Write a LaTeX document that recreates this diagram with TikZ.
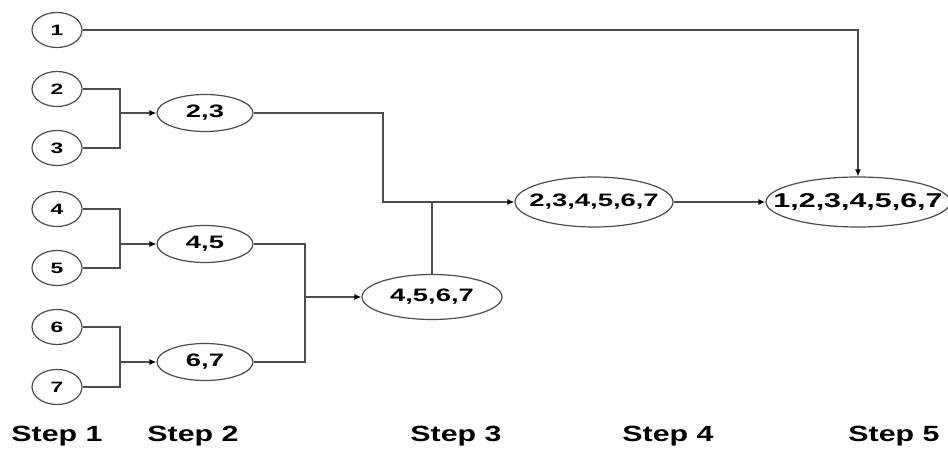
\documentclass[tikz,border=0pt]{standalone}
\usepackage{fontspec}
\setmainfont{Liberation Sans}
\usepackage{graphicx}
\usetikzlibrary{shapes.geometric,arrows.meta}
\newcommand{\wtxt}[1]{\scalebox{1.52}[1]{#1}}
\newcommand{\stxt}[1]{\scalebox{1.38}[1]{#1}}
\begin{document}
\begin{tikzpicture}[x=1pt,y=-1pt,
  leaf/.style={draw=black!70,line width=1.2pt,ellipse,inner sep=0pt,minimum width=50pt,minimum height=35pt,font=\fontsize{15}{15}\selectfont\bfseries},
  grp/.style={draw=black!70,line width=1.2pt,ellipse,inner sep=0pt,minimum width=96pt,minimum height=37pt},
  gtxt/.style={font=\fontsize{18}{18}\selectfont\bfseries,inner sep=0pt},
  btxt/.style={font=\fontsize{20}{20}\selectfont\bfseries,inner sep=0pt},
  lnk/.style={draw=black!70,line width=1.3pt},
  arr/.style={lnk,-{Latex[length=7pt,width=6pt,color=black]}},
  steplbl/.style={font=\fontsize{22}{22}\selectfont\bfseries,inner sep=0pt}
]
\useasboundingbox (0,0) rectangle (948,449);
\node[leaf] (n1) at (57,30) {\wtxt{1}};
\node[leaf] (n2) at (57,89) {\wtxt{2}};
\node[leaf] (n3) at (57,148) {\wtxt{3}};
\node[leaf] (n4) at (57,209) {\wtxt{4}};
\node[leaf] (n5) at (57,268) {\wtxt{5}};
\node[leaf] (n6) at (57,327) {\wtxt{6}};
\node[leaf] (n7) at (57,387) {\wtxt{7}};
\node[grp,label={[gtxt]center:\wtxt{2,3}}] (n23) at (205,113) {};
\node[grp,label={[gtxt]center:\wtxt{4,5}}] (n45) at (205,244) {};
\node[grp,label={[gtxt]center:\wtxt{6,7}}] (n67) at (205,362) {};
\node[grp,minimum width=140pt,minimum height=45pt,label={[gtxt]center:\wtxt{4,5,6,7}}] (n4567) at (432,297) {};
\node[grp,minimum width=158pt,minimum height=50pt,label={[gtxt]center:\wtxt{2,3,4,5,6,7}}] (n234567) at (594,202) {};
\node[grp,minimum width=184pt,minimum height=50pt,label={[btxt]center:\wtxt{1,2,3,4,5,6,7}}] (n1234567) at (858,202) {};
\coordinate (b23) at (120,113);
\coordinate (b45) at (120,244);
\coordinate (b67) at (120,362);
\coordinate (b4567) at (305,297);
\coordinate (k) at (383,202);
% brackets
\draw[lnk] (n2) -| (b23);
\draw[lnk] (n3) -| (b23);
\draw[arr] (b23) -- (n23);
\draw[lnk] (n4) -| (b45);
\draw[lnk] (n5) -| (b45);
\draw[arr] (b45) -- (n45);
\draw[lnk] (n6) -| (b67);
\draw[lnk] (n7) -| (b67);
\draw[arr] (b67) -- (n67);
\draw[lnk] (n45) -| (b4567);
\draw[lnk] (n67) -| (b4567);
\draw[arr] (b4567) -- (n4567);
\draw[arr] (n23) -| (k) -- (n234567);
\draw[lnk] (n4567.north) -- (n4567.north |- k);
\draw[arr] (n234567) -- (n1234567);
\draw[arr] (n1) -| (n1234567);
% step labels
\node[steplbl] (s1) at (57,436) {\stxt{Step 1}};
\node[steplbl] (s2) at (193,436) {\stxt{Step 2}};
\node[steplbl] (s3) at (456,436) {\stxt{Step 3}};
\node[steplbl] (s4) at (668,436) {\stxt{Step 4}};
\node[steplbl] (s5) at (894,436) {\stxt{Step 5}};
\end{tikzpicture}
\end{document}
